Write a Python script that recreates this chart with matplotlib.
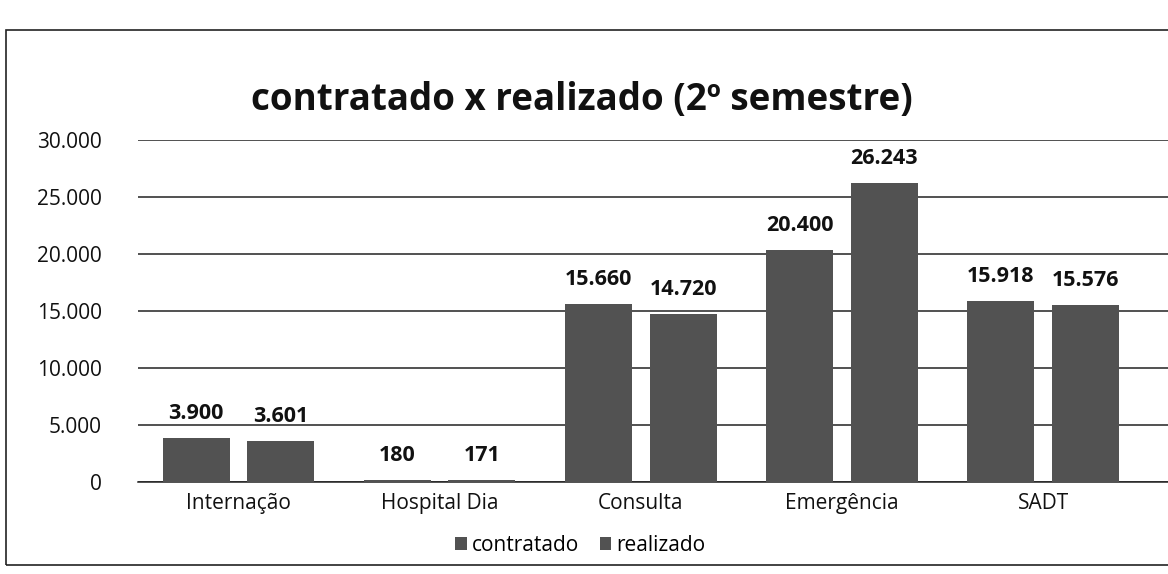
import matplotlib.pyplot as plt
import matplotlib.ticker as mticker
from matplotlib.patches import Rectangle
import numpy as np

categorias = ["Internação", "Hospital Dia", "Consulta", "Emergência", "SADT"]
contratado = [3900, 180, 15660, 20400, 15918]
realizado = [3601, 171, 14720, 26243, 15576]
yticks = [0, 5000, 10000, 15000, 20000, 25000, 30000]


def fmt(v):
    return f"{v:,.0f}".replace(",", ".")


plt.rcParams['font.family'] = ['Open Sans', 'DejaVu Sans']

fig = plt.figure(figsize=(11.68, 5.74), dpi=100)
ax = fig.add_axes([0.118, 0.160, 0.882, 0.596])

x = np.arange(len(categorias))
w = 0.333
cor = "#525252"
b1 = ax.bar(x - 0.21, contratado, w, color=cor, label="contratado", zorder=3)
b2 = ax.bar(x + 0.21, realizado, w, color=cor, label="realizado", zorder=3)

for bars in (b1, b2):
    for r in bars:
        ax.annotate(fmt(r.get_height()), (r.get_x() + r.get_width() / 2, r.get_height()),
                    xytext=(0, 10), textcoords="offset points", ha="center", va="bottom",
                    fontsize=15.5, fontweight="bold", color="#111111")

ax.set_xlim(-0.5, 4.62)
ax.set_ylim(0, 30000)
ax.set_yticks(yticks)
ax.yaxis.set_major_formatter(mticker.FuncFormatter(lambda v, p: fmt(v)))
ax.set_xticks(x)
ax.set_xticklabels(categorias)
ax.tick_params(axis="both", length=0, labelsize=15, colors="#111111")
ax.tick_params(axis="x", pad=8)
ax.tick_params(axis="y", pad=26)
ax.grid(axis="y", color="#222222", linewidth=1.1, zorder=0)
for s in ["top", "right", "left"]:
    ax.spines[s].set_visible(False)
ax.spines["bottom"].set_color("#222222")
ax.spines["bottom"].set_linewidth(1.1)

fig.text(0.498, 0.826, "contratado x realizado (2º semestre)", ha="center", va="center",
         fontsize=26.5, fontweight="bold", color="#111111")

fig.legend(loc="center", bbox_to_anchor=(0.497, 0.05), ncol=2, frameon=False,
           fontsize=15, handlelength=0.55, handleheight=0.55, handletextpad=0.25,
           columnspacing=1.0, borderpad=0)

fig.patches.append(Rectangle((0.005, 0.016), 1.2, 0.932, transform=fig.transFigure,
                             fill=False, edgecolor="#222222", linewidth=1.2))

fig.savefig("out.png", dpi=100)
